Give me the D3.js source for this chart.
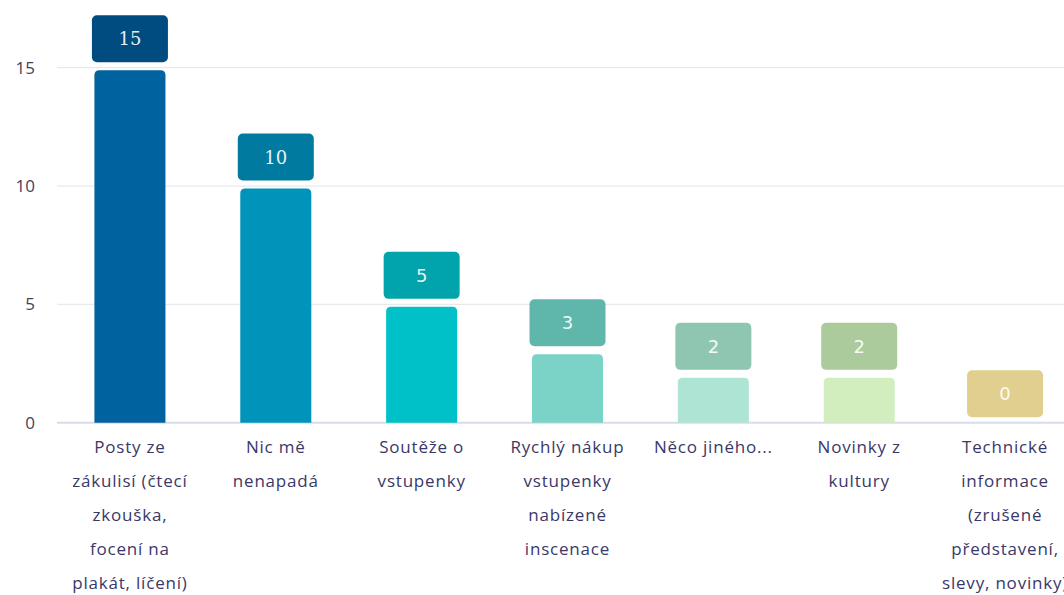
<!DOCTYPE html>
<html>
<head>
<meta charset="utf-8">
<script src="https://cdn.jsdelivr.net/npm/d3@7"></script>
<style>
  html, body { margin: 0; padding: 0; background: #ffffff; overflow: hidden; }
  svg { display: block; }
</style>
</head>
<body>
<svg id="chart" width="1064" height="595"></svg>
<script>
// Survey answers and counts
const categories = [
  "Posty ze zákulisí (čtecí zkouška, focení na plakát, líčení)",
  "Nic mě nenapadá",
  "Soutěže o vstupenky",
  "Rychlý nákup vstupenky nabízené inscenace",
  "Něco jiného...",
  "Novinky z kultury",
  "Technické informace (zrušené představení, slevy, novinky)"
];
const labelLines = [
  ["Posty ze", "zákulisí (čtecí", "zkouška,", "focení na", "plakát, líčení)"],
  ["Nic mě", "nenapadá"],
  ["Soutěže o", "vstupenky"],
  ["Rychlý nákup", "vstupenky", "nabízené", "inscenace"],
  ["Něco jiného..."],
  ["Novinky z", "kultury"],
  ["Technické", "informace", "(zrušené", "představení,", "slevy, novinky)"]
];
const values = [15, 10, 5, 3, 2, 2, 0];
const yTicks = [0, 5, 10, 15];
const barColors = ["#00629e", "#0094bb", "#00c0c8", "#7bd3c8", "#aee4d3", "#d2edbe", "#efe0a8"];
const boxColors = ["#004b80", "#007a9e", "#00a4aa", "#5fb7ab", "#8fc6b1", "#abcb9c", "#e1cf8f"];

const svg = d3.select("#chart");
const x0 = 57, x1 = 1078;
const yBase = 422.7, yTop = 67.7;

const x = d3.scaleBand().domain(d3.range(categories.length)).range([x0, x1]).paddingInner(0.513).paddingOuter(0.2565);
const y = d3.scaleLinear().domain([0, 15]).range([yBase, yTop]);

// Gridlines
svg.append("g")
  .selectAll("line")
  .data(yTicks)
  .join("line")
  .attr("x1", x0).attr("x2", 1064)
  .attr("y1", d => y(d)).attr("y2", d => y(d))
  .attr("stroke", d => d === 0 ? "#d9dcea" : "#e8e9ee")
  .attr("stroke-width", d => d === 0 ? 2 : 1.2);

// Y axis labels
const yAxis = d3.axisLeft(y).tickValues(yTicks).tickSize(0).tickPadding(0);
const gy = svg.append("g").attr("transform", "translate(35,0)").call(yAxis);
gy.select(".domain").remove();
gy.selectAll("text")
  .attr("font-family", "'Open Sans', sans-serif")
  .attr("font-size", 17)
  .attr("fill", "#44435e");

// Bars with rounded top corners
const bw = x.bandwidth();
const r = 5;
function barPath(i, v) {
  const left = x(i), right = left + bw;
  const top = y(v) + 2.5, bottom = yBase;
  if (bottom - top <= 0) return "";
  const rr = Math.min(r, (bottom - top));
  return `M${left},${bottom}V${top + rr}Q${left},${top} ${left + rr},${top}H${right - rr}Q${right},${top} ${right},${top + rr}V${bottom}Z`;
}
svg.append("g")
  .selectAll("path")
  .data(values)
  .join("path")
  .attr("d", (d, i) => barPath(i, d))
  .attr("fill", (d, i) => barColors[i]);

// Value boxes
const boxW = 76, boxH = 47;
const boxes = svg.append("g")
  .selectAll("g")
  .data(values)
  .join("g")
  .attr("transform", (d, i) => `translate(${x(i) + bw / 2},${y(d) - 5.5 - boxH})`);
boxes.append("rect")
  .attr("x", -boxW / 2).attr("y", 0)
  .attr("width", boxW).attr("height", boxH)
  .attr("rx", 5).attr("ry", 5)
  .attr("fill", (d, i) => boxColors[i]);
boxes.append("text")
  .attr("x", 0).attr("y", boxH / 2 + 6.5)
  .attr("text-anchor", "middle")
  .attr("font-family", d => d >= 10 ? "'DejaVu Serif', serif" : "'DejaVu Sans', sans-serif")
  .attr("font-size", 18)
  .attr("fill", "#ffffff")
  .attr("fill-opacity", 0.92)
  .text(d => d);

// Category labels, wrapped
const xl = svg.append("g")
  .selectAll("text")
  .data(labelLines)
  .join("text")
  .attr("text-anchor", "middle")
  .attr("font-family", "'Open Sans', sans-serif")
  .attr("font-size", 17)
  .attr("letter-spacing", "0.8px")
  .attr("fill", "#3a3868")
  .attr("transform", (d, i) => `translate(${x(i) + bw / 2},0)`);
xl.selectAll("tspan")
  .data(d => d)
  .join("tspan")
  .attr("x", 0)
  .attr("y", (d, j) => 452.5 + j * 34.2)
  .text(d => d);
</script>
</body>
</html>
